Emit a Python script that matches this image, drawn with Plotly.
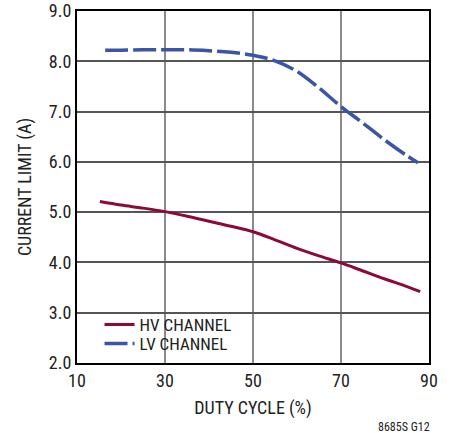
import plotly.graph_objects as go

hv_duty = [15.2, 20, 25, 30, 35, 40, 45, 50, 55, 60, 65, 70, 75, 80, 85, 88]
hv_current = [5.21, 5.14, 5.08, 5.01, 4.92, 4.82, 4.72, 4.61, 4.45, 4.28, 4.13, 3.99, 3.83, 3.67, 3.52, 3.42]

lv_duty = [16.4, 20, 25, 30, 35, 40, 45, 50, 55, 60, 65, 70, 75, 80, 85, 87.5]
lv_current = [8.22, 8.22, 8.23, 8.23, 8.23, 8.21, 8.18, 8.12, 8.01, 7.80, 7.47, 7.10, 6.77, 6.43, 6.12, 5.98]

x_ticks = [10, 30, 50, 70, 90]
y_ticks = [2.0, 3.0, 4.0, 5.0, 6.0, 7.0, 8.0, 9.0]

FONT = "Liberation Sans Narrow, Arial Narrow, Roboto Condensed, Liberation Sans, Arial, sans-serif"

fig = go.Figure()
fig.add_trace(go.Scatter(x=hv_duty, y=hv_current, mode="lines", name="HV CHANNEL",
                         line=dict(color="#8C0A33", width=3, shape="spline"), legend="legend"))
fig.add_trace(go.Scatter(x=lv_duty, y=lv_current, mode="lines", name="LV CHANNEL",
                         line=dict(color="#3A55A6", width=3.5, dash="23px,5px", shape="spline"),
                         legend="legend2"))

leg_common = dict(xanchor="left", yanchor="middle", bgcolor="rgba(0,0,0,0)",
                  font=dict(size=17, color="#222"))

fig.update_layout(
    width=455, height=433,
    margin=dict(l=77, r=26, t=11, b=70, autoexpand=False),
    paper_bgcolor="white", plot_bgcolor="white",
    font=dict(family=FONT, size=18, color="#222"),
    showlegend=True,
    legend=dict(x=0.064, y=0.108, **leg_common),
    legend2=dict(x=0.064, y=0.054, **leg_common),
    xaxis=dict(range=[10, 90], tickvals=x_ticks, ticktext=[str(v) for v in x_ticks],
               showgrid=True, gridcolor="#8a8a8a", gridwidth=1.5,
               showline=True, linecolor="black", linewidth=2, mirror=True,
               ticks="", zeroline=False, automargin=False, ticklabeloverflow="allow",
               tickfont=dict(size=18),
               title=dict(text="DUTY CYCLE (%)", standoff=12, font=dict(size=18))),
    yaxis=dict(range=[2, 9], tickvals=y_ticks, ticktext=[f"{v:.1f}" for v in y_ticks],
               showgrid=True, gridcolor="#555", gridwidth=1.5,
               showline=True, linecolor="black", linewidth=2, mirror=True,
               ticks="", zeroline=False, automargin=False, ticklabeloverflow="allow",
               tickfont=dict(size=18),
               title=dict(text="CURRENT LIMIT (A)", standoff=13, font=dict(size=18))),
    annotations=[dict(text="8685S G12", xref="paper", yref="paper", x=1.008, y=-0.155,
                      xanchor="right", yanchor="top", showarrow=False,
                      font=dict(size=12, color="#222"))],
)

fig.write_html("out.html", config={"displayModeBar": False},
               post_script="document.body.style.margin='0';")
